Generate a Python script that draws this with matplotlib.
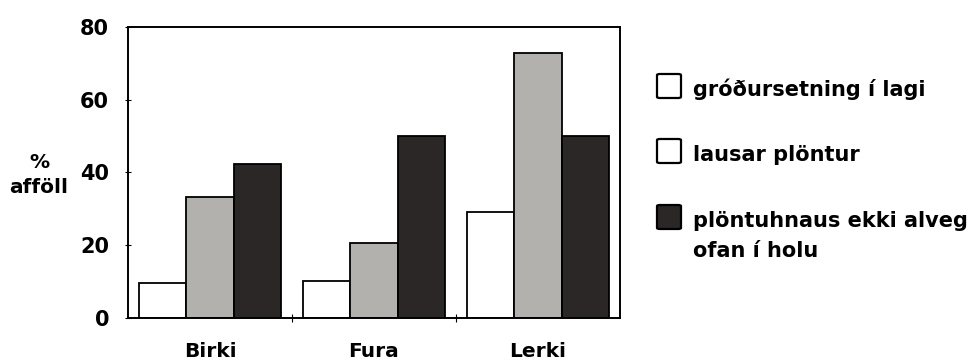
import numpy as np
import matplotlib
matplotlib.use("Agg")
import matplotlib.pyplot as plt
from matplotlib.patches import FancyBboxPatch

plt.rcParams.update({
    "font.family": ["DejaVu Sans"],
    "font.weight": "bold",
})

categories = ["Birki", "Fura", "Lerki"]
series_names = ["gróðursetning í lagi", "lausar plöntur",
                "plöntuhnaus ekki alveg\nofan í holu"]
gott = [9.6, 10.2, 29.1]
lausar = [33.2, 20.6, 72.8]
hnaus = [42.3, 50.0, 50.0]

bar_colors = ["white", "#b3b1ae", "#2b2727"]
legend_colors = ["white", "white", "#2b2727"]

W, H = 977, 363
fig = plt.figure(figsize=(W / 100, H / 100), dpi=100)
ax = fig.add_axes([0.131, 0.124, 0.5036, 0.8017])

x = np.arange(len(categories))
w = 0.287
for i, vals in enumerate([gott, lausar, hnaus]):
    ax.bar(x + (i - 1) * w, vals, width=w, color=bar_colors[i],
           edgecolor="black", linewidth=1.3)

ax.set_xlim(-0.5, 2.5)
ax.set_ylim(0, 80)
ax.set_yticks([0, 20, 40, 60, 80])
ax.tick_params(axis="y", labelsize=15, direction="inout", length=5, width=0.8, pad=11)
ax.set_xticks([0.5, 1.5])
ax.set_xticklabels([])
ax.tick_params(axis="x", direction="inout", length=6, width=0.8)
for s in ax.spines.values():
    s.set_linewidth(1.4)
for yl in ax.get_yticklabels():
    yl.set_fontweight("bold")

for xi, name in zip(x, categories):
    ax.text(xi, -6.6, name, ha="center", va="top", fontsize=14.5,
            fontweight="bold", clip_on=False)

fig.text(0.040, 1 - 175 / H, "%\nafföll", ha="center", va="center",
         fontsize=14.5, fontweight="bold", linespacing=1.35)

# legend drawn by hand (square aligned with first text line)
sq_tops = [74, 139, 205]
for top, c, name in zip(sq_tops, legend_colors, series_names):
    fig.patches.append(FancyBboxPatch(
        (657 / W, 1 - (top + 24) / H), 24 / W, 24 / H,
        boxstyle="round,pad=0,rounding_size=0.003",
        transform=fig.transFigure, facecolor=c, edgecolor="black",
        linewidth=1.6))
    for k, line in enumerate(name.split("\n")):
        fig.text(693 / W, 1 - (top + 22 + 30 * k) / H, line, ha="left",
                 va="baseline", fontsize=15, fontweight="bold")

fig.savefig("out.png", dpi=100)
